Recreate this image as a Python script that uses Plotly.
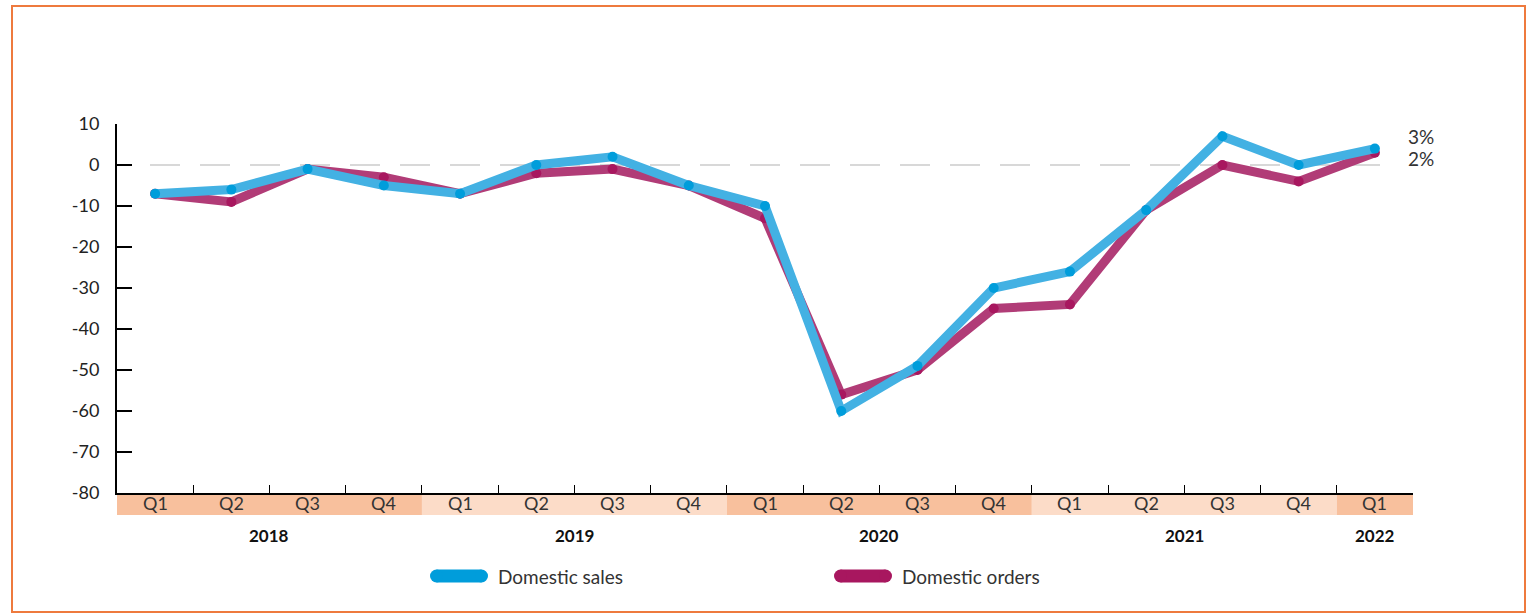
import plotly.graph_objects as go

quarters = ["Q1", "Q2", "Q3", "Q4", "Q1", "Q2", "Q3", "Q4", "Q1", "Q2", "Q3", "Q4",
            "Q1", "Q2", "Q3", "Q4", "Q1"]
years = ["2018", "2019", "2020", "2021", "2022"]
year_quarter_counts = [4, 4, 4, 4, 1]
band_colors = ["#f8c09d", "#fcdcc8", "#f8c09d", "#fcdcc8", "#f8c09d"]

domestic_sales = [-7, -6, -1, -5, -7, 0, 2, -5, -10, -60, -49, -30, -26, -11, 7, 0, 4]
domestic_orders = [-7, -9, -1, -3, -7, -2, -1, -5, -13, -56, -50, -35, -34, -11, 0, -4, 3]
end_labels = ["3%", "2%"]
series_names = ["Domestic sales", "Domestic orders"]
y_ticks = list(range(-80, 11, 10))

W, H = 1533, 615
L, R, T, B = 117, 120, 124, 122
pw, ph = W - L - R, H - T - B

def px_x(p):
    return (p - L) / pw

def px_y(p):
    return (H - B - p) / ph

n = len(quarters)
xs = list(range(n))

FONT = "Lato"
TXT = "#2a2a2a"
SALES_LINE, SALES_MARK = "#43b1e3", "#009ddb"
ORD_LINE, ORD_MARK = "#b13c77", "#a8175f"

fig = go.Figure()

fig.add_trace(go.Scatter(
    x=xs, y=domestic_orders, name=series_names[1], mode="lines+markers",
    line=dict(color=ORD_LINE, width=9),
    marker=dict(color=ORD_MARK, size=10), showlegend=False,
))
fig.add_trace(go.Scatter(
    x=xs, y=domestic_sales, name=series_names[0], mode="lines+markers",
    line=dict(color=SALES_LINE, width=9),
    marker=dict(color=SALES_MARK, size=10), showlegend=False,
))

shapes = []
# orange border
shapes.append(dict(type="rect", xref="paper", yref="paper",
                   x0=px_x(12), x1=px_x(1525), y0=px_y(612), y1=px_y(6),
                   line=dict(color="#ee7a3e", width=2), fillcolor="rgba(0,0,0,0)", layer="below"))
# zero dashed line
shapes.append(dict(type="line", xref="paper", yref="y", x0=px_x(150), x1=px_x(1396), y0=0, y1=0,
                   line=dict(color="#d8d8d8", width=2, dash="30px,20px"), layer="below"))

annotations = []
# quarter bands
band_top = px_y(H - B)
band_bot = px_y(515)
i = 0
for yr, cnt, col in zip(years, year_quarter_counts, band_colors):
    x0 = (i) / n
    x1 = (i + cnt) / n
    shapes.append(dict(type="rect", xref="paper", yref="paper", x0=x0, x1=x1,
                       y0=band_bot, y1=band_top - 0.004, fillcolor=col, line=dict(width=0), layer="below"))
    annotations.append(dict(xref="paper", yref="paper", x=(x0 + x1) / 2, y=px_y(535),
                            yanchor="middle", xanchor="center",
                            text="<b>%s</b>" % yr, showarrow=False,
                            font=dict(family=FONT, size=17, color="#111")))
    i += cnt

for k, q in enumerate(quarters):
    annotations.append(dict(xref="x", yref="paper", x=k, y=px_y(503), text=q, showarrow=False,
                            yanchor="middle", xanchor="center",
                            font=dict(family=FONT, size=18, color="#333")))

annotations.append(dict(xref="paper", yref="y", x=px_x(1406), y=domestic_sales[-1] + 3.0,
                        text=end_labels[0], showarrow=False, xanchor="left", yanchor="middle",
                        font=dict(family=FONT, size=19, color="#333")))
annotations.append(dict(xref="paper", yref="y", x=px_x(1406), y=domestic_orders[-1] - 1.4,
                        text=end_labels[1], showarrow=False, xanchor="left", yanchor="middle",
                        font=dict(family=FONT, size=19, color="#333")))

# custom legend (pill swatches + text)
leg_y = px_y(576)
for name, col, xstart in [(series_names[0], SALES_MARK, 430), (series_names[1], ORD_MARK, 834)]:
    w, h = 58, 13
    shapes.append(dict(type="rect", xref="paper", yref="paper", xsizemode="pixel", ysizemode="pixel",
                       xanchor=px_x(xstart), yanchor=leg_y, x0=h / 2, x1=w - h / 2, y0=-h / 2, y1=h / 2,
                       fillcolor=col, line=dict(width=0)))
    for cx in (h / 2, w - h / 2):
        shapes.append(dict(type="circle", xref="paper", yref="paper", xsizemode="pixel", ysizemode="pixel",
                           xanchor=px_x(xstart), yanchor=leg_y, x0=cx - h / 2, x1=cx + h / 2,
                           y0=-h / 2, y1=h / 2, fillcolor=col, line=dict(width=0)))
    annotations.append(dict(xref="paper", yref="paper", x=px_x(xstart + w + 8), y=leg_y,
                            text=name, showarrow=False, xanchor="left", yanchor="middle",
                            font=dict(family=FONT, size=19, color="#333")))

fig.update_layout(
    width=W, height=H,
    margin=dict(l=L, r=R, t=T, b=B, pad=0),
    paper_bgcolor="white", plot_bgcolor="white",
    font=dict(family=FONT, color=TXT),
    shapes=shapes, annotations=annotations,
    showlegend=False,
    xaxis=dict(range=[-0.5, n - 0.5], showgrid=False, zeroline=False,
               showline=True, linecolor="black", linewidth=2,
               tickmode="array", tickvals=[k - 0.5 for k in range(n + 1)],
               ticks="inside", ticklen=8, tickwidth=1, tickcolor="black",
               showticklabels=False),
    yaxis=dict(range=[-80, 10], showgrid=False, zeroline=False,
               showline=True, linecolor="black", linewidth=2,
               tickmode="array", tickvals=y_ticks, ticktext=[str(v) for v in y_ticks],
               ticks="inside", ticklen=15, tickwidth=2, tickcolor="black",
               ticklabelstandoff=12,
               tickfont=dict(family=FONT, size=18, color="#222")),
)

fig.write_html("out.html")
